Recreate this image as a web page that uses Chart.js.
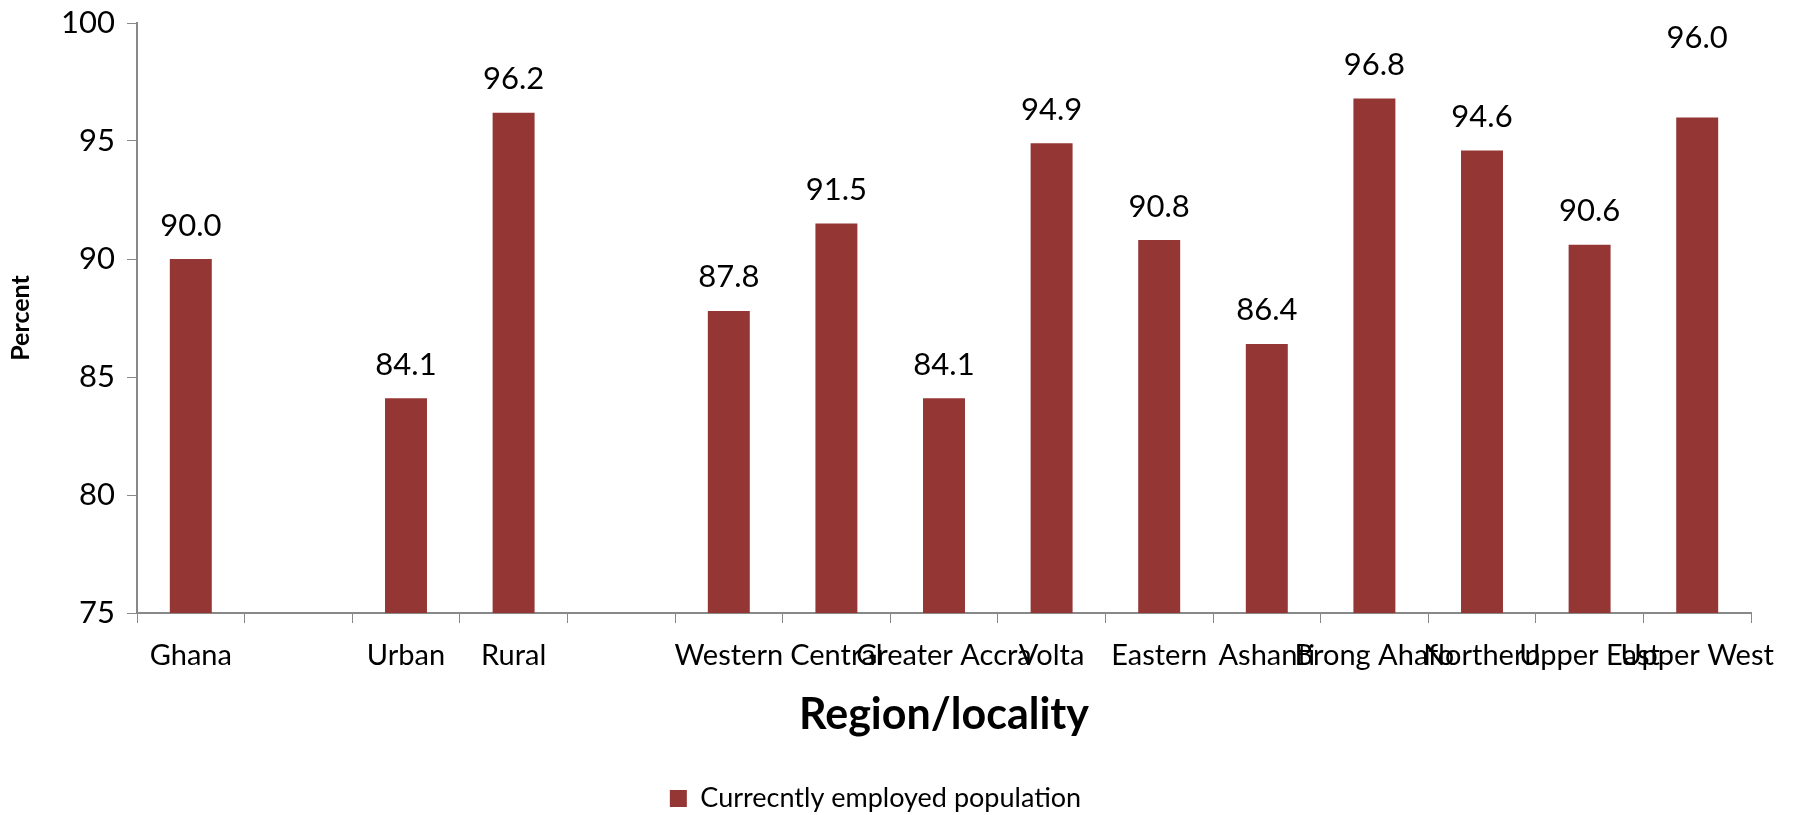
<!DOCTYPE html>
<html>
<head>
<meta charset="utf-8">
<script src="https://cdn.jsdelivr.net/npm/chart.js@4/dist/chart.umd.min.js"></script>
<style>
  html, body { margin: 0; padding: 0; background: #fff; }
  #wrap { width: 1793px; height: 815px; }
</style>
</head>
<body>
<div id="wrap"><canvas id="employedChart" width="1793" height="815"></canvas></div>
<script>
const categories = ["Ghana", "", "Urban", "Rural", "", "Western", "Central", "Greater Accra",
  "Volta", "Eastern", "Ashanti", "Brong Ahafo", "Northern", "Upper East", "Upper West"];
const employed = [90.0, null, 84.1, 96.2, null, 87.8, 91.5, 84.1, 94.9, 90.8, 86.4, 96.8, 94.6, 90.6, 96.0];
const yTicks = [75, 80, 85, 90, 95, 100];

const FONT = "Lato, 'Open Sans', sans-serif";
const BAR = "#943634";

// value labels above each bar
const valueLabels = {
  id: "valueLabels",
  afterDatasetsDraw(chart) {
    const { ctx } = chart;
    const meta = chart.getDatasetMeta(0);
    ctx.save();
    ctx.fillStyle = "#000";
    ctx.font = "31px " + FONT;
    ctx.textAlign = "center";
    ctx.textBaseline = "bottom";
    meta.data.forEach((bar, i) => {
      const v = employed[i];
      if (v == null) return;
      // the last label sits higher in the original
      const lift = i === employed.length - 1 ? 64 : 18;
      ctx.fillText(v.toFixed(1), bar.x, bar.y - lift);
    });
    ctx.restore();
  }
};

new Chart(document.getElementById("employedChart").getContext("2d"), {
  type: "bar",
  data: {
    labels: categories,
    datasets: [{
      label: "Currecntly employed population",
      data: employed,
      backgroundColor: BAR,
      borderWidth: 0,
      barPercentage: 0.39,
      categoryPercentage: 1.0
    }]
  },
  options: {
    responsive: false,
    animation: false,
    layout: { padding: { top: 23, right: 42, left: 0, bottom: 0 } },
    plugins: {
      legend: {
        position: "bottom",
        maxHeight: 30,
        labels: {
          font: { family: FONT, size: 27 },
          color: "#000",
          boxWidth: 17,
          boxHeight: 17,
          padding: 0
        }
      },
      tooltip: { enabled: false }
    },
    scales: {
      x: {
        offset: true,
        grid: {
          display: true,
          offset: true,
          drawOnChartArea: false,
          drawTicks: true,
          tickLength: 10,
          color: "#888"
        },
        border: { color: "#888", width: 2 },
        ticks: {
          autoSkip: false,
          maxRotation: 0,
          minRotation: 0,
          padding: 15,
          color: "#000",
          font: { family: FONT, size: 29 }
        },
        title: {
          display: true,
          text: "Region/locality",
          color: "#000",
          font: { family: FONT, size: 43, weight: "bold" },
          padding: { top: 10, bottom: 44 }
        },
        afterFit(scale) { scale.height = 172; }
      },
      y: {
        min: 75,
        max: 100,
        afterBuildTicks(scale) { scale.ticks = yTicks.map(v => ({ value: v })); },
        grid: {
          display: true,
          drawOnChartArea: false,
          drawTicks: true,
          tickLength: 10,
          color: "#888"
        },
        border: { color: "#888", width: 2 },
        ticks: {
          padding: 12,
          color: "#000",
          font: { family: FONT, size: 31 }
        },
        title: {
          display: true,
          text: "Percent",
          color: "#000",
          font: { family: FONT, size: 25, weight: "bold" },
          padding: { top: 6, bottom: 10 }
        },
        afterFit(scale) {
          scale.width = 137;
          scale.paddingTop = 0;
          scale.paddingBottom = 0;
        }
      }
    }
  },
  plugins: [valueLabels]
});
</script>
</body>
</html>
